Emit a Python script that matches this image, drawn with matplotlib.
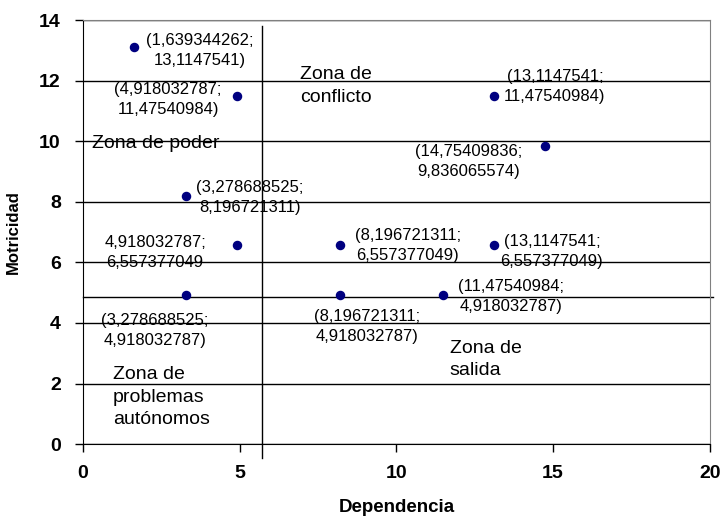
import matplotlib.pyplot as plt

plt.rcParams['font.family'] = ['Liberation Sans', 'DejaVu Sans']

# puntos (dependencia, motricidad)
dependencia = [1.639344262, 4.918032787, 13.1147541, 14.75409836, 3.278688525,
               4.918032787, 8.196721311, 13.1147541, 3.278688525, 8.196721311,
               11.47540984]
motricidad = [13.1147541, 11.47540984, 11.47540984, 9.836065574, 8.196721311,
              6.557377049, 6.557377049, 6.557377049, 4.918032787, 4.918032787,
              4.918032787]
etiquetas = ['(1,639344262;\n13,1147541)',
             '(4,918032787;\n11,47540984)',
             '(13,1147541;\n11,47540984)',
             '(14,75409836;\n9,836065574)',
             '(3,278688525;\n8,196721311)',
             '4,918032787;\n6,557377049',
             '(8,196721311;\n6,557377049)',
             '(13,1147541;\n6,557377049)',
             '(3,278688525;\n4,918032787)',
             '(8,196721311;\n4,918032787)',
             '(11,47540984;\n4,918032787)']
# desplazamiento de cada etiqueta en pixeles
desplaz = [(65, -4), (-69, -3), (61, 10), (-77, -15), (64, -2), (-82, -7),
           (68, 0), (58, -6), (-31, -35), (27, -31), (68, -1)]

zonas = ['Zona de poder', 'Zona de\nconflicto', 'Zona de\nsalida',
         'Zona de\nproblemas\nautónomos']
zonas_pos = [(0.29, 9.93), (6.92, 11.82), (11.7, 2.79), (0.96, 1.55)]

corte_x = 5.72
corte_y = 4.84

fig = plt.figure(figsize=(7.22, 5.2), dpi=100)
ax = fig.add_axes([0.115, 0.146, 0.868, 0.8155])

ax.set_xlim(0, 20)
ax.set_ylim(0, 14)
ax.set_xticks([0, 5, 10, 15, 20])
ax.set_yticks(range(0, 15, 2))
ax.yaxis.grid(True, color='black', linewidth=1)
ax.set_axisbelow(True)

ax.scatter(dependencia, motricidad, s=34, color='#000080', zorder=3)

for x, y, t, d in zip(dependencia, motricidad, etiquetas, desplaz):
    ax.annotate(t, (x, y), xytext=d, textcoords='offset pixels',
                ha='center', va='center', multialignment='center',
                fontsize=12, linespacing=1.4)

for z, p in zip(zonas, zonas_pos):
    ax.text(p[0], p[1], z, ha='left', va='center', fontsize=14, linespacing=1.45)

ax.axhline(corte_y, color='black', linewidth=1, xmax=1.005, clip_on=False)
ax.plot([corte_x, corte_x], [-0.45, 13.8], color='black', linewidth=1,
        clip_on=False)

for s in ['top', 'right']:
    ax.spines[s].set_color('#808080')
for s in ['left', 'bottom']:
    ax.spines[s].set_color('black')

ax.tick_params(direction='out', length=6, width=1, labelsize=14)
ax.tick_params(axis='x', pad=9)
ax.tick_params(axis='y', pad=10)
for lbl in ax.get_xticklabels() + ax.get_yticklabels():
    lbl.set_fontweight('bold')

ax.set_xlabel('Dependencia', fontsize=13.5, fontweight='bold', labelpad=12)
ax.set_ylabel('Motricidad', fontsize=12, fontweight='bold', labelpad=13)

fig.savefig('out.png', dpi=100)
